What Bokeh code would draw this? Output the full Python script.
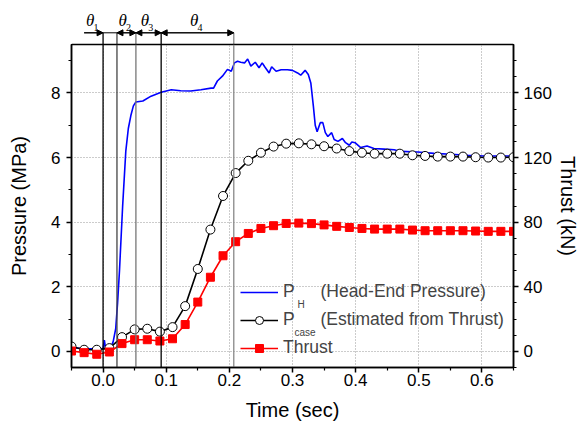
from bokeh.plotting import figure
from bokeh.layouts import column
from bokeh.models import (Range1d, LinearAxis, FixedTicker, Legend, LegendItem,
                          Arrow, NormalHead, Label)
from bokeh.embed import file_html
from bokeh.resources import INLINE

# ---------------- data ----------------
# Head-end pressure (MPa)
t_head = [-0.05, -0.03, -0.01, 0.0, 0.002, 0.004, 0.012, 0.016, 0.02, 0.023, 0.026,
          0.031, 0.036, 0.040, 0.044, 0.048, 0.052, 0.063, 0.076, 0.092, 0.108, 0.123,
          0.139, 0.155, 0.171, 0.175, 0.181, 0.189, 0.197, 0.203, 0.208, 0.213, 0.218,
          0.224, 0.229, 0.234, 0.241, 0.247, 0.252, 0.256, 0.263, 0.267, 0.274, 0.282,
          0.292, 0.300, 0.308, 0.313, 0.320, 0.325, 0.329, 0.333, 0.336, 0.339, 0.344,
          0.348, 0.352, 0.356, 0.362, 0.366, 0.372, 0.379, 0.384, 0.390, 0.394, 0.399,
          0.408, 0.418, 0.429, 0.445, 0.461, 0.472, 0.498, 0.524, 0.551, 0.577, 0.603,
          0.630, 0.650]
p_head = [0.12, 0.08, 0.08, 0.08, 0.35, 0.10, 0.10, 0.30, 0.70, 1.50, 2.50,
          4.50, 6.20, 6.90, 7.30, 7.60, 7.72, 7.75, 7.90, 8.02, 8.10, 8.07,
          8.06, 8.10, 8.15, 8.15, 8.37, 8.52, 8.73, 8.67, 8.93, 8.98, 8.95,
          8.93, 9.05, 8.83, 8.95, 8.78, 8.93, 8.81, 8.62, 8.81, 8.67, 8.72,
          8.72, 8.70, 8.62, 8.55, 8.70, 8.57, 8.31, 7.60, 7.00, 6.80, 7.08,
          7.08, 6.77, 6.65, 6.77, 6.56, 6.50, 6.59, 6.46, 6.38, 6.48, 6.46,
          6.31, 6.36, 6.28, 6.26, 6.24, 6.19, 6.17, 6.13, 6.10, 6.07, 6.05,
          6.05, 6.05]

# sample times of the thrust-derived series (sec)
t_samp = [-0.05, -0.03, -0.01, 0.01, 0.03, 0.05, 0.07, 0.09, 0.11, 0.13, 0.15, 0.17,
          0.19, 0.21, 0.23, 0.25, 0.27, 0.29, 0.31, 0.33, 0.35, 0.37, 0.39, 0.41,
          0.43, 0.45, 0.47, 0.49, 0.51, 0.53, 0.55, 0.57, 0.59, 0.61, 0.63, 0.65]
# estimated case pressure (MPa)
p_case = [0.15, 0.05, 0.05, 0.10, 0.44, 0.68, 0.70, 0.61, 0.75, 1.40, 2.55, 3.77,
          4.81, 5.52, 5.90, 6.15, 6.34, 6.43, 6.44, 6.41, 6.35, 6.28, 6.20, 6.15,
          6.12, 6.12, 6.12, 6.07, 6.05, 6.03, 6.03, 6.03, 6.01, 6.00, 6.00, 6.01]
# thrust (kN)
thrust = [0.2, -0.8, -1.8, -0.4, 4.8, 7.2, 7.2, 6.4, 7.8, 16.6, 30.5, 45.9,
          59.2, 67.9, 73.0, 76.1, 77.8, 79.2, 79.4, 79.1, 78.3, 77.4, 76.7, 76.1,
          75.7, 75.7, 75.7, 75.1, 74.7, 74.7, 74.7, 74.7, 74.5, 74.3, 74.3, 74.3]

# event phase boundaries (sec) and labels
phase_t = [0.0, 0.022, 0.052, 0.092, 0.207]
phase_colors = ["black", "#444444", "#777777", "black", "#888888"]
theta_names = ["1", "2", "3", "4"]
theta_x = [-0.027, 0.0245, 0.0595, 0.1375]

x_major = [0.0, 0.1, 0.2, 0.3, 0.4, 0.5, 0.6]
x_minor = [-0.05, 0.05, 0.15, 0.25, 0.35, 0.45, 0.55, 0.65]
y_major = [0, 2, 4, 6, 8]
y_minor = [1, 3, 5, 7, 9]
y2_major = [0, 40, 80, 120, 160]
y2_minor = [-10, 10, 20, 30, 50, 60, 70, 90, 100, 110, 130, 140, 150, 170, 180]

FONT = "Liberation Sans"
BL, BR = 71, 64
xr = Range1d(-0.05, 0.65)

# ---------------- strip above the frame (phase arrows) ----------------
top = figure(frame_width=442, frame_height=44, min_border_left=BL, min_border_right=BR,
             min_border_top=0, min_border_bottom=0, x_range=xr, y_range=Range1d(0, 44),
             x_axis_location=None, y_axis_location=None,
             output_backend="svg", toolbar_location=None,
             background_fill_color="white", border_fill_color="white")
top.grid.visible = False
top.outline_line_color = None

y_arr = 11.7
top.segment(x0=phase_t, y0=[0] * len(phase_t), x1=phase_t, y1=[y_arr] * len(phase_t),
            line_color=phase_colors, line_width=1.3)
top.segment(x0=[-0.03], y0=[y_arr], x1=[phase_t[-1]], y1=[y_arr], line_color="black",
            line_width=1)
top.segment(x0=[-0.05], y0=[0], x1=[0.65], y1=[0], line_color="black", line_width=1.5)


def head():
    return NormalHead(size=6, fill_color="black", line_color="black", line_width=1)

top.add_layout(Arrow(x_start=-0.03, y_start=y_arr, x_end=phase_t[0], y_end=y_arr,
                     end=head(), line_width=1))
for a, b in zip(phase_t[1:-1], phase_t[2:]):
    top.add_layout(Arrow(x_start=a, y_start=y_arr, x_end=b, y_end=y_arr,
                         start=head(), end=head(), line_width=1))

for name, tx in zip(theta_names, theta_x):
    top.add_layout(Label(x=tx, y=24, text="θ", text_font="Liberation Serif",
                         text_font_style="italic", text_font_size="17px",
                         text_baseline="middle", text_align="left", text_color="black"))
    top.add_layout(Label(x=tx + 0.012, y=17, text=name, text_font="Liberation Serif",
                         text_font_size="10px", text_baseline="middle", text_align="left",
                         text_color="black"))

# ---------------- main plot ----------------
p = figure(frame_width=442, frame_height=323,
           min_border_left=BL, min_border_right=BR, min_border_top=0, min_border_bottom=56,
           x_range=xr, y_range=Range1d(-0.5, 9.5),
           output_backend="svg", toolbar_location=None,
           background_fill_color="white", border_fill_color="white")
p.extra_y_ranges = {"thrust": Range1d(-10, 190)}

p.outline_line_color = "black"
p.outline_line_width = 1.5

p.xaxis.ticker = FixedTicker(ticks=x_major, minor_ticks=x_minor)
p.yaxis.ticker = FixedTicker(ticks=y_major, minor_ticks=y_minor)
p.xaxis.axis_label = "Time (sec)"
p.yaxis.axis_label = "Pressure (MPa)"
p.xaxis.major_label_overrides = {v: f"{v:.1f}" for v in x_major}

right = LinearAxis(y_range_name="thrust", axis_label="Thrust (kN)",
                   ticker=FixedTicker(ticks=y2_major, minor_ticks=y2_minor))
p.add_layout(right, "right")

for ax in [p.xaxis[0], p.yaxis[0], right]:
    ax.axis_line_width = 1.5
    ax.axis_line_color = "black"
    ax.major_tick_line_width = 1.5
    ax.minor_tick_line_width = 1.2
    ax.major_tick_in = 0
    ax.major_tick_out = 5
    ax.minor_tick_in = 0
    ax.minor_tick_out = 3
    ax.major_label_text_font = FONT
    ax.major_label_text_font_size = "17px"
    ax.major_label_text_color = "black"
    ax.axis_label_text_font = FONT
    ax.axis_label_text_font_size = "20px"
    ax.axis_label_text_font_style = "normal"
    ax.axis_label_text_color = "black"

p.yaxis[0].axis_label_standoff = 18
p.yaxis[0].major_label_standoff = 6
p.xaxis[0].axis_label_standoff = 10
p.xaxis[0].major_label_standoff = 1
right.axis_label_standoff = 2
right.major_label_standoff = 5

p.xgrid.ticker = FixedTicker(ticks=x_major)
p.ygrid.ticker = FixedTicker(ticks=y_major)
for g in [p.xgrid[0], p.ygrid[0]]:
    g.grid_line_color = "#999999"
    g.grid_line_dash = "1 2"
    g.grid_line_width = 1

# data
rH = p.line(t_head, p_head, line_color="#0000ff", line_width=1.6)
rc_l = p.line(t_samp, p_case, line_color="black", line_width=1.6)
rc_s = p.scatter(t_samp, p_case, marker="circle", size=9, fill_color="white",
                 line_color="black", line_width=1)
rt_l = p.line(t_samp, thrust, line_color="#ff0000", line_width=1.6, y_range_name="thrust")
rt_s = p.scatter(t_samp, thrust, marker="square", size=8, fill_color="#ff0000",
                 line_color="#ff0000", y_range_name="thrust")

# phase boundary lines
p.segment(x0=phase_t, y0=[-0.5] * len(phase_t), x1=phase_t, y1=[9.5] * len(phase_t),
          line_color=phase_colors, line_width=1.3)

# legend
sp = "\u00a0" * 5 + "\u200a"
legend = Legend(items=[
    LegendItem(label="P" + sp + "(Head-End Pressure)", renderers=[rH]),
    LegendItem(label="P" + sp + "(Estimated from Thrust)", renderers=[rc_l, rc_s]),
    LegendItem(label="Thrust", renderers=[rt_l, rt_s]),
], location=(169, 9))
legend.padding = 0
legend.margin = 0
legend.spacing = 7
legend.glyph_width = 38
legend.glyph_height = 20
legend.label_height = 20
legend.label_standoff = 5
legend.label_text_font = FONT
legend.label_text_font_size = "17.5px"
legend.border_line_alpha = 0
legend.background_fill_alpha = 0
p.add_layout(legend)

p.add_layout(Label(x=0.308, y=1.45, text="H", text_font=FONT, text_font_size="10px",
                   text_baseline="middle", text_align="left"))
p.add_layout(Label(x=0.303, y=0.58, text="case", text_font=FONT, text_font_size="10px",
                   text_baseline="middle", text_align="left"))

layout = column(top, p, spacing=0)
open("out.html", "w").write(file_html(layout, INLINE))
